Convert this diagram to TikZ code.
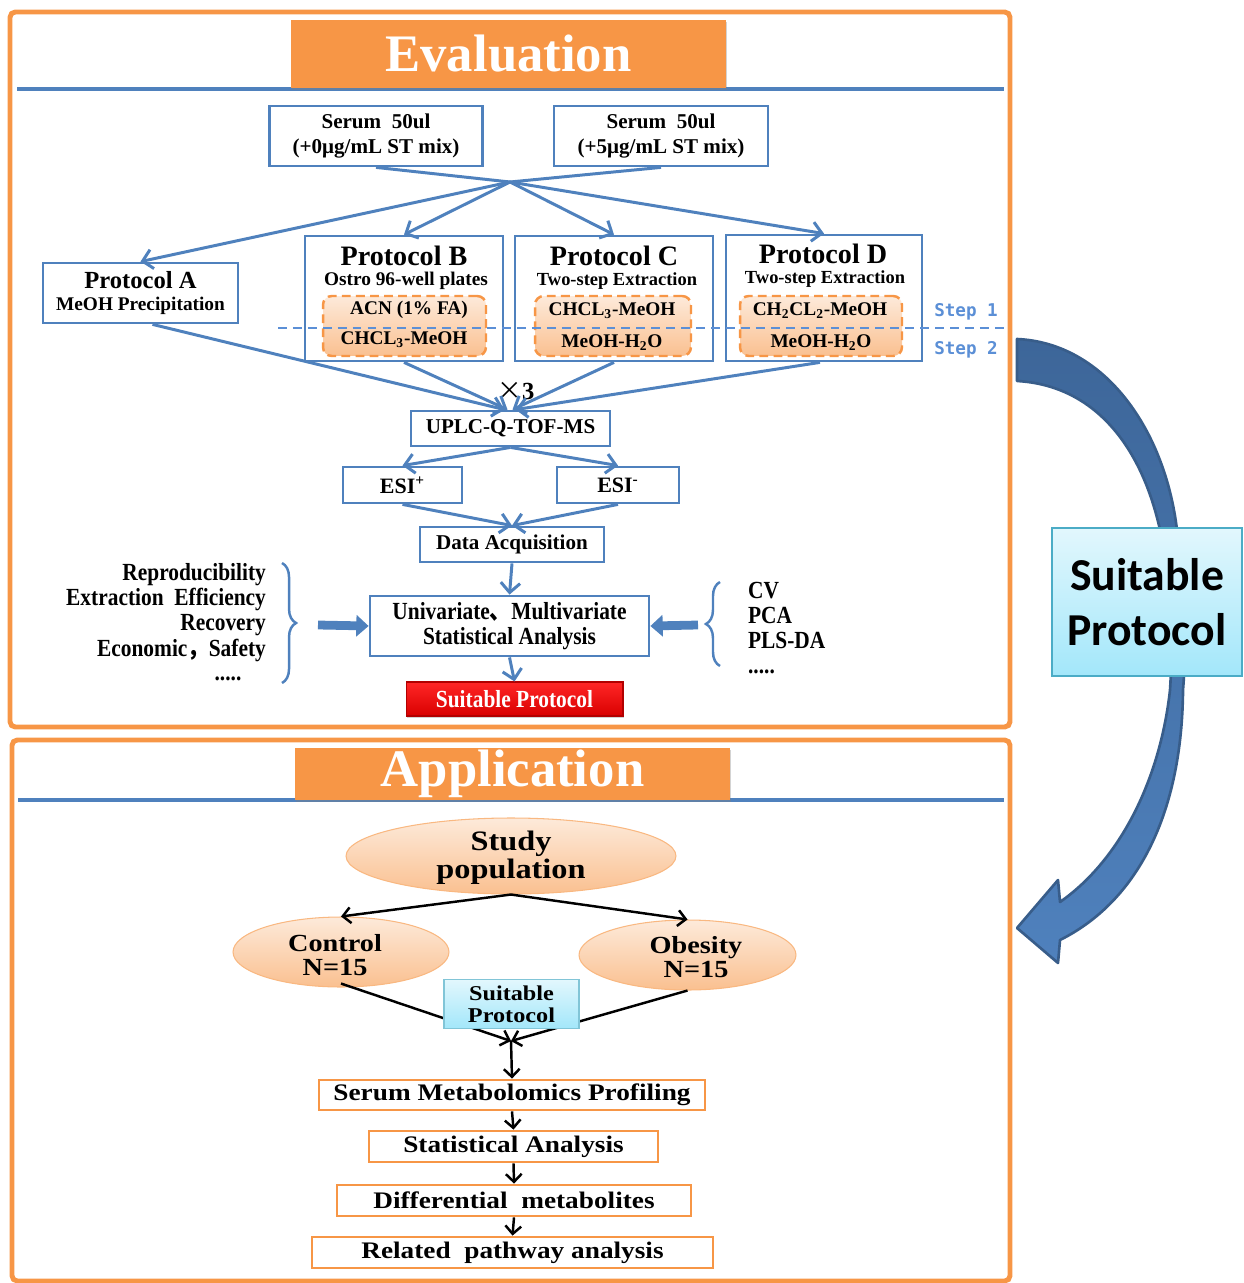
\documentclass[tikz,border=0pt]{standalone}
\usepackage{fontspec}
\setmainfont{Liberation Serif}
\newfontfamily\cjk{Noto Sans CJK SC}
\newfontfamily\calib{Carlito}
\newfontfamily\mono{DejaVu Sans Mono}
\usepackage{graphicx}
\usepackage{tikz}
\usetikzlibrary{arrows.meta,shapes.geometric,calc,decorations.pathreplacing,shadows}
\definecolor{frame}{HTML}{F79646}
\definecolor{blu}{HTML}{4F81BD}
\definecolor{darkblu}{HTML}{385D8A}
\definecolor{arrowtop}{HTML}{3D6699}
\definecolor{stepblu}{HTML}{5B8FD6}
\definecolor{peach}{HTML}{FAC090}
\definecolor{peachlt}{HTML}{FDEADA}
\definecolor{skylt}{HTML}{E2F7FD}
\definecolor{sky}{HTML}{A3E7FA}
\definecolor{skybd}{HTML}{4BACC6}
\definecolor{alarm}{HTML}{FF0000}
\newcommand{\fsz}[2]{\fontsize{#1}{#2}\selectfont}
\newcommand{\cond}[1]{\scalebox{0.87}[1]{#1}}
\newcommand{\wide}[1]{\scalebox{1.15}[1]{#1}}
\tikzset{
  panel/.style={draw=frame, line width=2.8pt, rounded corners=3pt},
  titlebar/.style={fill=frame, inner sep=0pt, text=white, font=\bfseries\fsz{30}{30},
    drop shadow={opacity=0.35, shadow xshift=0.8pt, shadow yshift=-1pt}},
  barline/.style={draw=blu, line width=2.2pt},
  bbox/.style={draw=blu, line width=1.6pt, fill=white, align=center, font=\bfseries},
  sbox/.style={draw=frame, line width=1.4pt, dash pattern=on 5pt off 3pt, rounded corners=5pt,
    top color=peachlt, bottom color=peach},
  flow/.style={draw=blu, line width=1.7pt, -{Straight Barb[length=5.5pt,width=11pt]}},
  feed/.style={draw=blu, line width=1.7pt},
  fat/.style={draw=blu, line width=5pt, -{Triangle[length=7pt,width=12pt]}},
  brc/.style={draw=blu, line width=1.4pt, decorate, decoration={brace, amplitude=8pt}},
  lab/.style={font=\bfseries\fsz{11}{11}},
  lst/.style={inner sep=1pt, font=\bfseries\fsz{14}{14}},
  stepline/.style={draw=stepblu, line width=1.2pt, dash pattern=on 5pt off 3.5pt},
  steplab/.style={text=stepblu, font=\mono\bfseries\fsz{10}{10}},
  redbtn/.style={top color=alarm!85!white, bottom color=alarm!85!black, draw=alarm!70!black,
    line width=0.6pt, text=white, font=\bfseries\fsz{14}{14},
    drop shadow={opacity=0.35, shadow xshift=0.8pt, shadow yshift=-1pt}},
  oval/.style={ellipse, top color=peachlt, bottom color=peach, draw=peach!80!frame, line width=0.6pt},
  ovaltext/.style={align=center, font=\bfseries\fsz{14}{13.6}},
  obox/.style={draw=frame, line width=1.6pt, fill=white, inner sep=1pt, font=\bfseries\fsz{13.5}{13.5}},
  bflow/.style={draw=black, line width=1.4pt, -{Straight Barb[length=4.5pt,width=9pt]}},
  bigarrow/.style={top color=arrowtop, bottom color=blu, draw=darkblu, line width=1.5pt, line join=round}
}

\begin{document}
\begin{tikzpicture}[x=0.02cm, y=-0.02cm]
  \useasboundingbox (0,0) rectangle (1243,1283);

  % evaluation panel
  \draw[panel] (10,12) rectangle (1010,727);
  \draw[barline] (17,89) -- (1004,89);
  \node[titlebar, minimum width=8.7cm, minimum height=1.36cm] (evaltitle) at (508.5,54) {Evaluation};

  \node[bbox, minimum width=4.26cm, minimum height=1.2cm, font=\bfseries\fsz{12}{14}] (serumA) at (376,136)
    {Serum\ \ 50ul\\(+0μg/mL\ ST\ mix)};
  \node[bbox, minimum width=4.28cm, minimum height=1.2cm, font=\bfseries\fsz{12}{14}] (serumB) at (661,136)
    {Serum\ \ 50ul\\(+5μg/mL\ ST\ mix)};
  \coordinate (mix) at (510,182);

  \node[bbox, minimum width=3.9cm, minimum height=1.2cm, font=\bfseries\fsz{14}{14}] (protA) at (140.5,293)
    {Protocol A\\[-1pt]{\fsz{11}{11}MeOH Precipitation}};
  \node[bbox, minimum width=3.96cm, minimum height=2.5cm] (protB) at (404,298.5) {};
  \node[bbox, minimum width=3.96cm, minimum height=2.5cm] (protC) at (614,298.5) {};
  \node[bbox, minimum width=3.92cm, minimum height=2.52cm] (protD) at (824,298) {};

  \node[lab, font=\bfseries\fsz{16}{16}] (protBt) at (404,256) {Protocol B};
  \node[lab] (protBs) at (406,281) {Ostro 96-well plates};
  \node[lab, font=\bfseries\fsz{16}{16}] (protCt) at (614,256) {Protocol C};
  \node[lab, font=\bfseries\fsz{10.5}{10.5}] (protCs) at (617,281) {Two-step Extraction};
  \node[lab, font=\bfseries\fsz{16}{16}] (protDt) at (823,254) {Protocol D};
  \node[lab, font=\bfseries\fsz{10.5}{10.5}] (protDs) at (825,279) {Two-step Extraction};

  \node[sbox, minimum width=3.26cm, minimum height=1.2cm] (solvB) at (404.5,326) {};
  \node[sbox, minimum width=3.12cm, minimum height=1.2cm] (solvC) at (613,326) {};
  \node[sbox, minimum width=3.24cm, minimum height=1.2cm] (solvD) at (821,326) {};
  \node[lab] (solvB1) at (409,310) {ACN (1\% FA)};
  \node[lab] (solvB2) at (404,340) {CHCL\textsubscript{3}-MeOH};
  \node[lab] (solvC1) at (612,311) {CHCL\textsubscript{3}-MeOH};
  \node[lab] (solvC2) at (612,343) {MeOH-H\textsubscript{2}O};
  \node[lab] (solvD1) at (820,311) {CH\textsubscript{2}CL\textsubscript{2}-MeOH};
  \node[lab] (solvD2) at (821,343) {MeOH-H\textsubscript{2}O};

  \draw[stepline] (278,328) -- (1005,328);
  \node[steplab] (step1) at (966,312) {Step 1};
  \node[steplab] (step2) at (966,350) {Step 2};

  \draw[feed] (serumA.south) -- (mix);
  \draw[feed] (serumB.south) -- (mix);
  \draw[flow] (mix) -- (protA.north);
  \draw[flow] (mix) -- (protB.north);
  \draw[flow] (mix) -- (protC.north);
  \draw[flow] (mix) -- (protD.north);

  \node[font=\fsz{14}{14}] (times3) at (516,391) {{\cjk ×}\textbf{3}};
  \node[bbox, minimum width=3.98cm, minimum height=0.7cm, font=\bfseries\fsz{12}{12}] (uplc) at (510.5,428.5) {UPLC-Q-TOF-MS};
  \draw[flow] ($(protA.south)+(12,0)$) -- ($(uplc.north)+(-6,0)$);
  \draw[flow] (protB.south) -- ($(uplc.north)+(-3,0)$);
  \draw[flow] (protC.south) -- ($(uplc.north)+(2,0)$);
  \draw[flow] ($(protD.south)+(-4,0)$) -- ($(uplc.north)+(5,0)$);

  \node[bbox, minimum width=2.38cm, minimum height=0.72cm, font=\bfseries\fsz{12.5}{12.5}] (esip) at (402.5,485) {ESI\textsuperscript{+}};
  \node[bbox, minimum width=2.44cm, minimum height=0.72cm, font=\bfseries\fsz{12.5}{12.5}] (esim) at (618,485) {ESI\textsuperscript{-}};
  \node[bbox, minimum width=3.68cm, minimum height=0.7cm, font=\bfseries\fsz{12}{12}] (data) at (512,544.5) {Data Acquisition};
  \node[bbox, minimum width=5.58cm, minimum height=1.2cm, font=\bfseries\fsz{14}{14.2}] (univ) at (509.5,626)
    {\cond{Univariate{\cjk 、}Multivariate}\\\cond{Statistical Analysis}};
  \node[redbtn, minimum width=4.34cm, minimum height=0.68cm] (suit) at (514.5,699) {\cond{Suitable Protocol}};

  \draw[flow] (uplc.south) -- (esip.north);
  \draw[flow] (uplc.south) -- (esim.north);
  \draw[flow] (esip.south) -- (data.north);
  \draw[flow] (esim.south) -- (data.north);
  \draw[flow] (data.south) -- (univ.north);
  \draw[flow] (univ.south) -- (suit.north);

  \node[lst, anchor=base east] (crit1) at (268,580) {\cond{Reproducibility}};
  \node[lst, anchor=base east] (crit2) at (268,605) {\cond{Extraction\ \ Efficiency}};
  \node[lst, anchor=base east] (crit3) at (268,630) {\cond{Recovery}};
  \node[lst, anchor=base east] (crit4) at (268,656) {\cond{Economic{\cjk ，}Safety}};
  \node[lst, anchor=base] (crit5) at (228,680) {\cond{.....}};
  \draw[brc] (282,563) -- (282,683);
  \coordinate (lfeed) at (318,625);
  \draw[fat] (lfeed) -- (univ.west);

  \node[lst, anchor=base west] (meas1) at (746,598) {\cond{CV}};
  \node[lst, anchor=base west] (meas2) at (746,623) {\cond{PCA}};
  \node[lst, anchor=base west] (meas3) at (746,648) {\cond{PLS-DA}};
  \node[lst, anchor=base west] (meas4) at (746,673) {\cond{.....}};
  \draw[brc] (720,666) -- (720,582);
  \coordinate (rfeed) at (698,625);
  \draw[fat] (rfeed) -- (univ.east);

  % application panel
  \draw[panel] (12,740) rectangle (1010,1281);
  \draw[barline] (18,800) -- (1004,800);
  \node[titlebar, minimum width=8.7cm, minimum height=1.04cm] (apptitle) at (512.5,774) {Application};

  \node[oval, minimum width=6.6cm, minimum height=1.52cm] (study) at (511,856) {};
  \node[ovaltext, font=\bfseries\fsz{16}{16}] (studyt) at (511,858) {\wide{Study}\\\wide{population}};
  \node[oval, minimum width=4.32cm, minimum height=1.4cm] (ctrl) at (341,952) {};
  \node[ovaltext] (ctrlt) at (335,955) {\wide{Control}\\\wide{N=15}};
  \node[oval, minimum width=4.34cm, minimum height=1.4cm] (obes) at (687.5,955) {};
  \node[ovaltext] (obest) at (696,957) {\wide{Obesity}\\\wide{N=15}};
  \coordinate (join) at (511,1041);

  \draw[bflow] (study.south) -- (ctrl.north);
  \draw[bflow] (study.south) -- (obes.north);
  \draw[bflow] ($(ctrl.south)+(0,-4)$) -- (join);
  \draw[bflow] (obes.south) -- (join);
  \node[top color=skylt, bottom color=sky, draw=skybd!70, line width=0.6pt, minimum width=2.7cm, minimum height=0.96cm,
    align=center, font=\bfseries\fsz{12}{12.5}] (suitapp) at (511.5,1004) {\wide{Suitable}\\\wide{Protocol}};

  \node[obox, minimum width=7.72cm, minimum height=0.6cm] (smp) at (512,1095) {\wide{Serum Metabolomics Profiling}};
  \node[obox, minimum width=5.78cm, minimum height=0.62cm] (stat) at (513.5,1146.5) {\wide{Statistical Analysis}};
  \node[obox, minimum width=7.08cm, minimum height=0.62cm] (diff) at (514,1200.5) {\wide{Differential\ \ metabolites}};
  \node[obox, minimum width=8.02cm, minimum height=0.62cm] (path) at (512.5,1252.5) {\wide{Related\ \ pathway analysis}};
  \draw[bflow] (join) -- (smp.north);
  \draw[bflow] (smp.south) -- (stat.north);
  \draw[bflow] (stat.south) -- (diff.north);
  \draw[bflow] (diff.south) -- (path.north);

  % curved arrow and its label
  \path[bigarrow] (1017,339) .. controls (1105,343) and (1165,430) .. (1177,530)
    .. controls (1185,600) and (1187,640) .. (1183,690)
    .. controls (1182,810) and (1140,900) .. (1060,940) -- (1058,963) -- (1017,928) -- (1058,880) -- (1060,902)
    .. controls (1120,860) and (1160,780) .. (1170,690)
    .. controls (1174,630) and (1168,570) .. (1160,530)
    .. controls (1140,440) and (1090,385) .. (1017,381) -- cycle;
  \node[top color=skylt, bottom color=sky, draw=skybd, line width=1pt, minimum width=3.8cm, minimum height=2.96cm,
    align=center, font=\calib\bfseries\fsz{26}{31}] (suitbig) at (1147,602) {Suitable\\Protocol};
\end{tikzpicture}
\end{document}
